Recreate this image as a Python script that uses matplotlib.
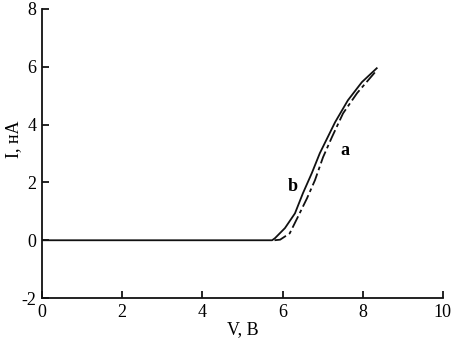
import matplotlib
matplotlib.use('Agg')
import matplotlib.pyplot as plt

# curve b (solid)
v_b = [0.0, 5.0, 5.74, 5.81, 6.06, 6.31, 6.51, 6.73, 6.93, 7.31, 7.63, 7.98, 8.35]
i_b = [0.0, 0.0, 0.0, 0.07, 0.42, 0.93, 1.63, 2.32, 3.01, 4.08, 4.84, 5.47, 5.95]

# curve a (dashed)
v_a = [5.80, 5.94, 6.18, 6.38, 6.61, 6.81, 7.01, 7.23, 7.51, 7.86, 8.35]
i_a = [0.0, 0.02, 0.24, 0.80, 1.45, 2.08, 2.87, 3.56, 4.39, 5.09, 5.88]

x_ticks = [0, 2, 4, 6, 8, 10]
y_ticks = [-2, 0, 2, 4, 6, 8]

plt.rcParams['font.family'] = ['Liberation Serif', 'DejaVu Serif']
plt.rcParams['axes.unicode_minus'] = False

fig = plt.figure(figsize=(4.54, 3.45), dpi=100)
ax = fig.add_axes([0.0925, 0.136, 0.883, 0.838])

ax.plot(v_b, i_b, color='#111111', lw=1.3)
ax.plot(v_a, i_a, color='#111111', lw=1.3, dashes=(7, 2, 2, 2))

ax.text(7.56, 3.1, 'a', fontsize=13, fontweight='bold', ha='center', va='center')
ax.text(6.25, 1.85, 'b', fontsize=13, fontweight='bold', ha='center', va='center')

ax.set_xlim(0, 10)
ax.set_ylim(-2, 8)
ax.set_xticks(x_ticks)
ax.set_yticks(y_ticks)
ax.spines['top'].set_visible(False)
ax.spines['right'].set_visible(False)
for s in ('left', 'bottom'):
    ax.spines[s].set_linewidth(1.3)
    ax.spines[s].set_color('#111111')
ax.tick_params(direction='in', length=5, width=1.2, labelsize=13, pad=4)

ax.set_xlabel('V, В', fontsize=13, labelpad=0)
ax.set_ylabel('I, нА', fontsize=13)
ax.yaxis.set_label_coords(-0.05, 0.55)

fig.savefig('out.png', dpi=100)
plt.close(fig)
